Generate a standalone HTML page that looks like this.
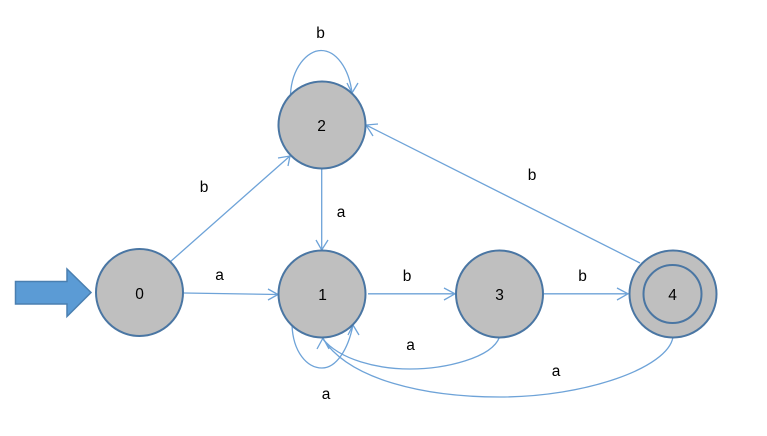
<!DOCTYPE html>
<html>
<head>
<meta charset="utf-8">
<style>
html,body{margin:0;padding:0;background:#fff;width:767px;height:436px;overflow:hidden}
svg{display:block}
text{font-family:"Liberation Sans",sans-serif;font-size:15.5px;fill:#000;text-anchor:middle}
.c{fill:#bfbfbf;stroke:#4a76a3;stroke-width:2}
.l{fill:none;stroke:#6ea3d8;stroke-width:1.300}
</style>
</head>
<body>
<svg width="767" height="436" viewBox="0 0 767 436" xmlns="http://www.w3.org/2000/svg">
<!-- start arrow -->
<path d="M15.500 281.500H67V269L91 292.500L67 316.500V304H15.500Z" fill="#5b9bd5" stroke="#4a7fb0" stroke-width="1.500"/>
<!-- connectors -->
<path class="l" d="M170 262L290 156M278 158L290 156L288 166"/>
<path class="l" d="M184 293L278 294.500M268 289L278 294.500L268 300"/>
<path class="l" d="M321.700 169V250M316 240L321.700 250L328 240"/>
<path class="l" d="M368 293.800H455M444 288L455 293.800L444 300"/>
<path class="l" d="M544 293.800H628M617 288L628 293.800L617 300"/>
<path class="l" d="M640 263L366 125M378 124L366 125L373 136"/>
<!-- self loop 2 -->
<path class="l" d="M290.500 94C292 68 307 50.500 321 50.500C336 50.500 349 68 352 93M347 83L352 93L358 83"/>
<!-- self loop 1 -->
<path class="l" d="M292 325C293 352 307 368 322 368C336 368 348 350 353 325M348 335L353 325L359 335"/>
<!-- 3 to 1 -->
<path class="l" d="M499.500 337C492 358 445 369 410 369C378 369 340 360 323 339"/>
<!-- 4 to 1 -->
<path class="l" d="M673 337C668 368 585 397 500 397C425 397 350 380 323 339M317 349L323 338L329 349"/>
<!-- nodes -->
<circle class="c" cx="139.500" cy="292.500" r="43.500"/>
<circle class="c" cx="322" cy="125" r="43.500"/>
<circle class="c" cx="322" cy="294" r="43.500"/>
<circle class="c" cx="499.500" cy="294" r="43.500"/>
<circle class="c" cx="673" cy="294" r="43.500"/>
<circle class="c" cx="672.500" cy="294" r="29"/>
<!-- node labels -->
<text x="139.500" y="299">0</text>
<text x="321.500" y="131">2</text>
<text x="322.500" y="300">1</text>
<text x="499.500" y="300">3</text>
<text x="672.500" y="300">4</text>
<!-- edge labels -->
<text x="320.500" y="38">b</text>
<text x="204" y="192">b</text>
<text x="341" y="217">a</text>
<text x="219.500" y="280">a</text>
<text x="407" y="281">b</text>
<text x="582.500" y="281">b</text>
<text x="532" y="180">b</text>
<text x="410.500" y="350">a</text>
<text x="556" y="376">a</text>
<text x="326" y="399">a</text>
</svg>
</body>
</html>
